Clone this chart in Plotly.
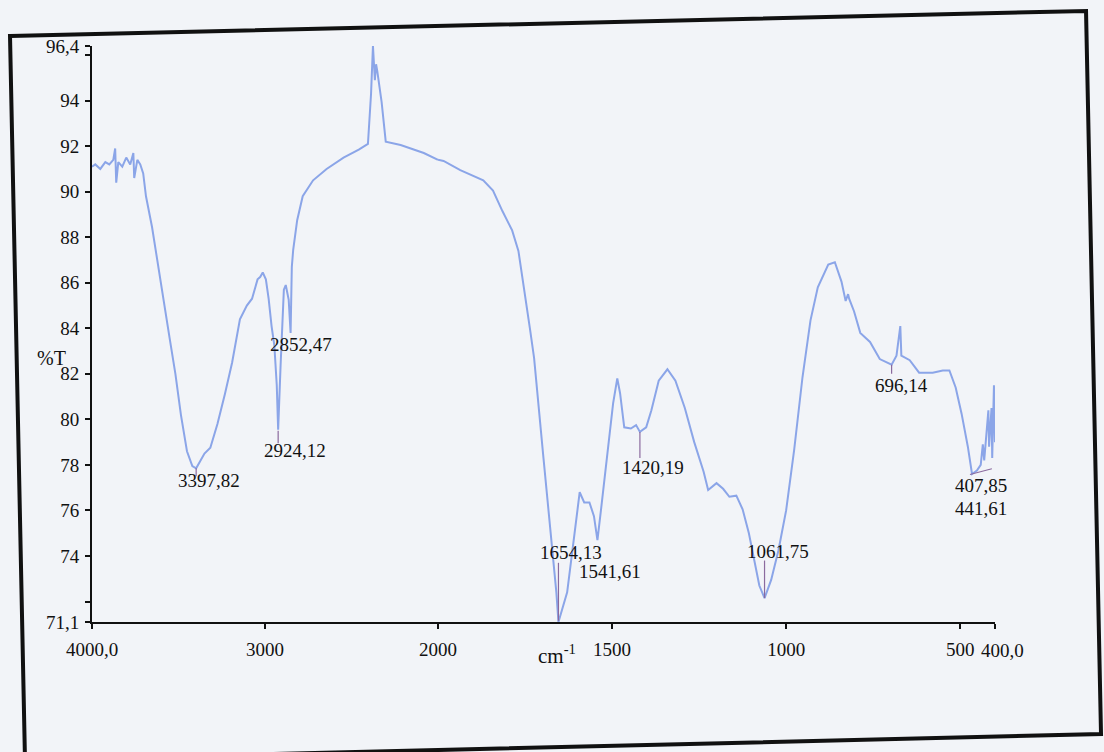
import plotly.graph_objects as go

# ---- data (wavenumber cm-1, %T) ----
wavenumber = [
    4000, 3981, 3952, 3923, 3900, 3877, 3866, 3860, 3848, 3825, 3802, 3779, 3761, 3756, 3738, 3721,
    3704, 3688, 3653, 3620, 3587, 3552, 3518, 3486, 3451, 3420, 3398, 3376, 3350, 3316, 3275, 3232,
    3190, 3145, 3105, 3075, 3043, 3028, 3013, 2995, 2979, 2962, 2946, 2932, 2924, 2910, 2891, 2880,
    2863, 2852, 2845, 2837, 2814, 2782, 2722, 2644, 2546, 2458, 2405, 2387, 2376, 2365, 2358, 2351,
    2326, 2302, 2216, 2082, 2000,
    1984, 1936, 1870, 1842, 1815, 1787, 1769, 1736, 1724, 1697, 1673, 1660, 1654, 1629, 1611, 1593,
    1580, 1565, 1552, 1542, 1532, 1515, 1497, 1485, 1477, 1465, 1446, 1431, 1420, 1402, 1387, 1366,
    1341, 1318, 1291, 1264, 1237, 1224, 1200, 1181, 1163, 1143, 1125, 1107, 1090, 1077, 1062, 1043,
    1022, 1000, 977, 953, 930, 909, 879, 860, 841, 829, 822, 819, 805, 787, 759, 731, 697, 683, 672,
    669, 645, 618, 579, 550, 531, 513, 496, 478, 466, 452, 441, 435, 431, 425, 419, 417, 410, 408,
    403, 400,
]
transmittance = [
    91.1, 91.2, 91.0, 91.3, 91.2, 91.4, 91.9, 90.4, 91.3, 91.1, 91.5, 91.2, 91.7, 90.6, 91.4, 91.2,
    90.8, 89.8, 88.45, 86.85, 85.1, 83.6, 82.0, 80.2, 78.6, 77.95, 77.85, 78.15, 78.5, 78.75, 79.8, 81.1,
    82.5, 84.4, 85.0, 85.3, 86.15, 86.25, 86.45, 86.15, 85.3, 84.1, 83.25, 81.5, 79.55, 82.35, 85.7, 85.9,
    85.25, 83.8, 86.7, 87.45, 88.75, 89.8, 90.5, 91.0, 91.5, 91.85, 92.1, 94.3, 96.4, 94.9, 95.6, 95.3,
    93.95, 92.2, 92.05, 91.7, 91.4,
    91.35, 90.95, 90.5, 90.05, 89.15, 88.3, 87.4, 84.0, 82.7, 78.3, 74.5, 72.4, 71.1, 72.4, 74.6, 76.8,
    76.35, 76.35, 75.75, 74.7, 76.0, 78.2, 80.7, 81.8, 81.15, 79.65, 79.6, 79.75, 79.45, 79.65, 80.4, 81.7,
    82.2, 81.7, 80.5, 79.0, 77.7, 76.9, 77.2, 76.95, 76.6, 76.65, 76.05, 75.0, 73.7, 72.7, 72.15, 72.95,
    74.25, 76.0, 78.65, 81.85, 84.35, 85.8, 86.8, 86.9, 86.05, 85.2, 85.5, 85.3, 84.75, 83.8, 83.4, 82.65, 82.4, 82.8, 84.1,
    82.8, 82.6, 82.05, 82.05, 82.15, 82.15, 81.4, 80.25, 78.8, 77.6, 77.75, 78.0, 78.9, 78.2, 79.2, 80.4, 78.8, 80.5, 78.3,
    81.5, 79.0,
]

# peak labels: text, label centre (wn, %T)
peak_labels = ["3397,82", "2924,12", "2852,47", "1654,13", "1541,61", "1420,19",
               "1061,75", "696,14", "407,85", "441,61"]
label_wn = [3322, 2827, 2793, 1617, 1505, 1383, 1023, 670, 439, 440]
label_t = [77.32, 78.65, 83.3, 74.17, 73.3, 77.88, 74.2, 81.47, 77.1, 76.1]

# leader marks: (wn0, t0, wn1, t1)
leader_wn0 = [3398, 2924, 1654, 1420, 1062, 697, 472]
leader_t0 = [77.85, 79.5, 71.15, 79.44, 72.15, 82.4, 77.58]
leader_wn1 = [3398, 2924, 1654, 1420, 1062, 697, 409]
leader_t1 = [77.5, 78.95, 73.7, 78.3, 73.8, 82.0, 77.83]

y_tickvals = [71.1, 72, 74, 76, 78, 80, 82, 84, 86, 88, 90, 92, 94, 96, 96.4]
y_ticktext = ["71,1", "", "74", "76", "78", "80", "82", "84", "86", "88", "90", "92", "94", "", "96,4"]
x1_tickvals = [4000, 3000]
x1_ticktext = ["4000,0", "3000"]
x2_tickvals = [2000, 1500, 1000, 500, 400]
x2_ticktext = ["2000", "1500", "1000", "500", ""]
end_label = "400,0"

# ---- layout geometry ----
W, H = 1104, 752
L, R, T, B = 92, 995, 46, 622
PW, PH = R - L, B - T
split = 346 / PW  # 4000-2000 part drawn at half scale

LINE = "#8ba5e8"
MARK = "#8b6a9e"
FONT = "Liberation Serif, Times New Roman, serif"
BG = "#f2f4f8"

hi_x = [w for w in wavenumber if w >= 2000]
hi_y = [t for w, t in zip(wavenumber, transmittance) if w >= 2000]
lo_x = [w for w in wavenumber if w <= 2000]
lo_y = [t for w, t in zip(wavenumber, transmittance) if w <= 2000]

fig = go.Figure()
fig.add_trace(go.Scatter(x=hi_x, y=hi_y, xaxis="x", yaxis="y", mode="lines",
                         line=dict(color=LINE, width=2), showlegend=False, hoverinfo="skip"))
fig.add_trace(go.Scatter(x=lo_x, y=lo_y, xaxis="x2", yaxis="y", mode="lines",
                         line=dict(color=LINE, width=2), showlegend=False, hoverinfo="skip"))

axis_common = dict(showline=True, linecolor="#111", linewidth=2, ticks="outside", ticklen=5,
                   tickwidth=1.5, tickcolor="#111", showgrid=False, zeroline=False, tickangle=0,
                   tickfont=dict(family=FONT, size=19, color="#111"))

fig.update_layout(
    width=W, height=H,
    margin=dict(l=L, r=W - R, t=T, b=H - B),
    paper_bgcolor=BG, plot_bgcolor=BG,
    xaxis=dict(domain=[0, split], range=[4000, 2000], tickmode="array", tickvals=x1_tickvals,
               ticktext=x1_ticktext, anchor="y", ticklabelstandoff=4, **axis_common),
    xaxis2=dict(domain=[split, 1], range=[2000, 400], tickmode="array", tickvals=x2_tickvals,
                ticktext=x2_ticktext, anchor="y", ticklabelstandoff=4, **axis_common),
    yaxis=dict(range=[71.1, 96.4], tickmode="array", tickvals=y_tickvals, ticktext=y_ticktext,
               anchor="x", ticklabelstandoff=2, **axis_common),
)

for txt, w, t in zip(peak_labels, label_wn, label_t):
    xr = "x" if w > 2000 else "x2"
    fig.add_annotation(x=w, y=t, xref=xr, yref="y", text=txt, showarrow=False,
                       font=dict(family=FONT, size=19, color="#111"), xanchor="center", yanchor="middle")

for w0, t0, w1, t1 in zip(leader_wn0, leader_t0, leader_wn1, leader_t1):
    xr = "x" if w0 > 2000 else "x2"
    fig.add_shape(type="line", xref=xr, yref="y", x0=w0, y0=t0, x1=w1, y1=t1,
                  line=dict(color=MARK, width=1.2))

# end-of-axis label, set a little to the right of its tick as in the print
fig.add_annotation(x=(979 - L) / PW, y=(B - 650) / PH, xref="paper", yref="paper", text=end_label,
                   showarrow=False, xanchor="left", yanchor="middle",
                   font=dict(family=FONT, size=19, color="#111"))

# axis titles
fig.add_annotation(x=(35 - L) / PW, y=(B - 358) / PH, xref="paper", yref="paper", text="%T",
                   showarrow=False, font=dict(family=FONT, size=20, color="#111"))
fig.add_annotation(x=(557 - L) / PW, y=(B - 670) / PH, xref="paper", yref="paper",
                   text="cm<sup>-1</sup>", showarrow=False, font=dict(family=FONT, size=21, color="#111"))

# outer frame of the printed page (slightly tilted in the scan)
def px2paper(px, py):
    return (px - L) / PW, (B - py) / PH

corners = [(10, 36), (1086, 11), (1101, 734), (25, 760)]
pts = [px2paper(x, y) for x, y in corners]
path = "M " + " L ".join(f"{x:.4f},{y:.4f}" for x, y in pts) + " Z"
fig.add_shape(type="path", xref="paper", yref="paper", path=path,
              line=dict(color="#111", width=4), fillcolor="rgba(0,0,0,0)", layer="below")

fig.write_html("out.html")
